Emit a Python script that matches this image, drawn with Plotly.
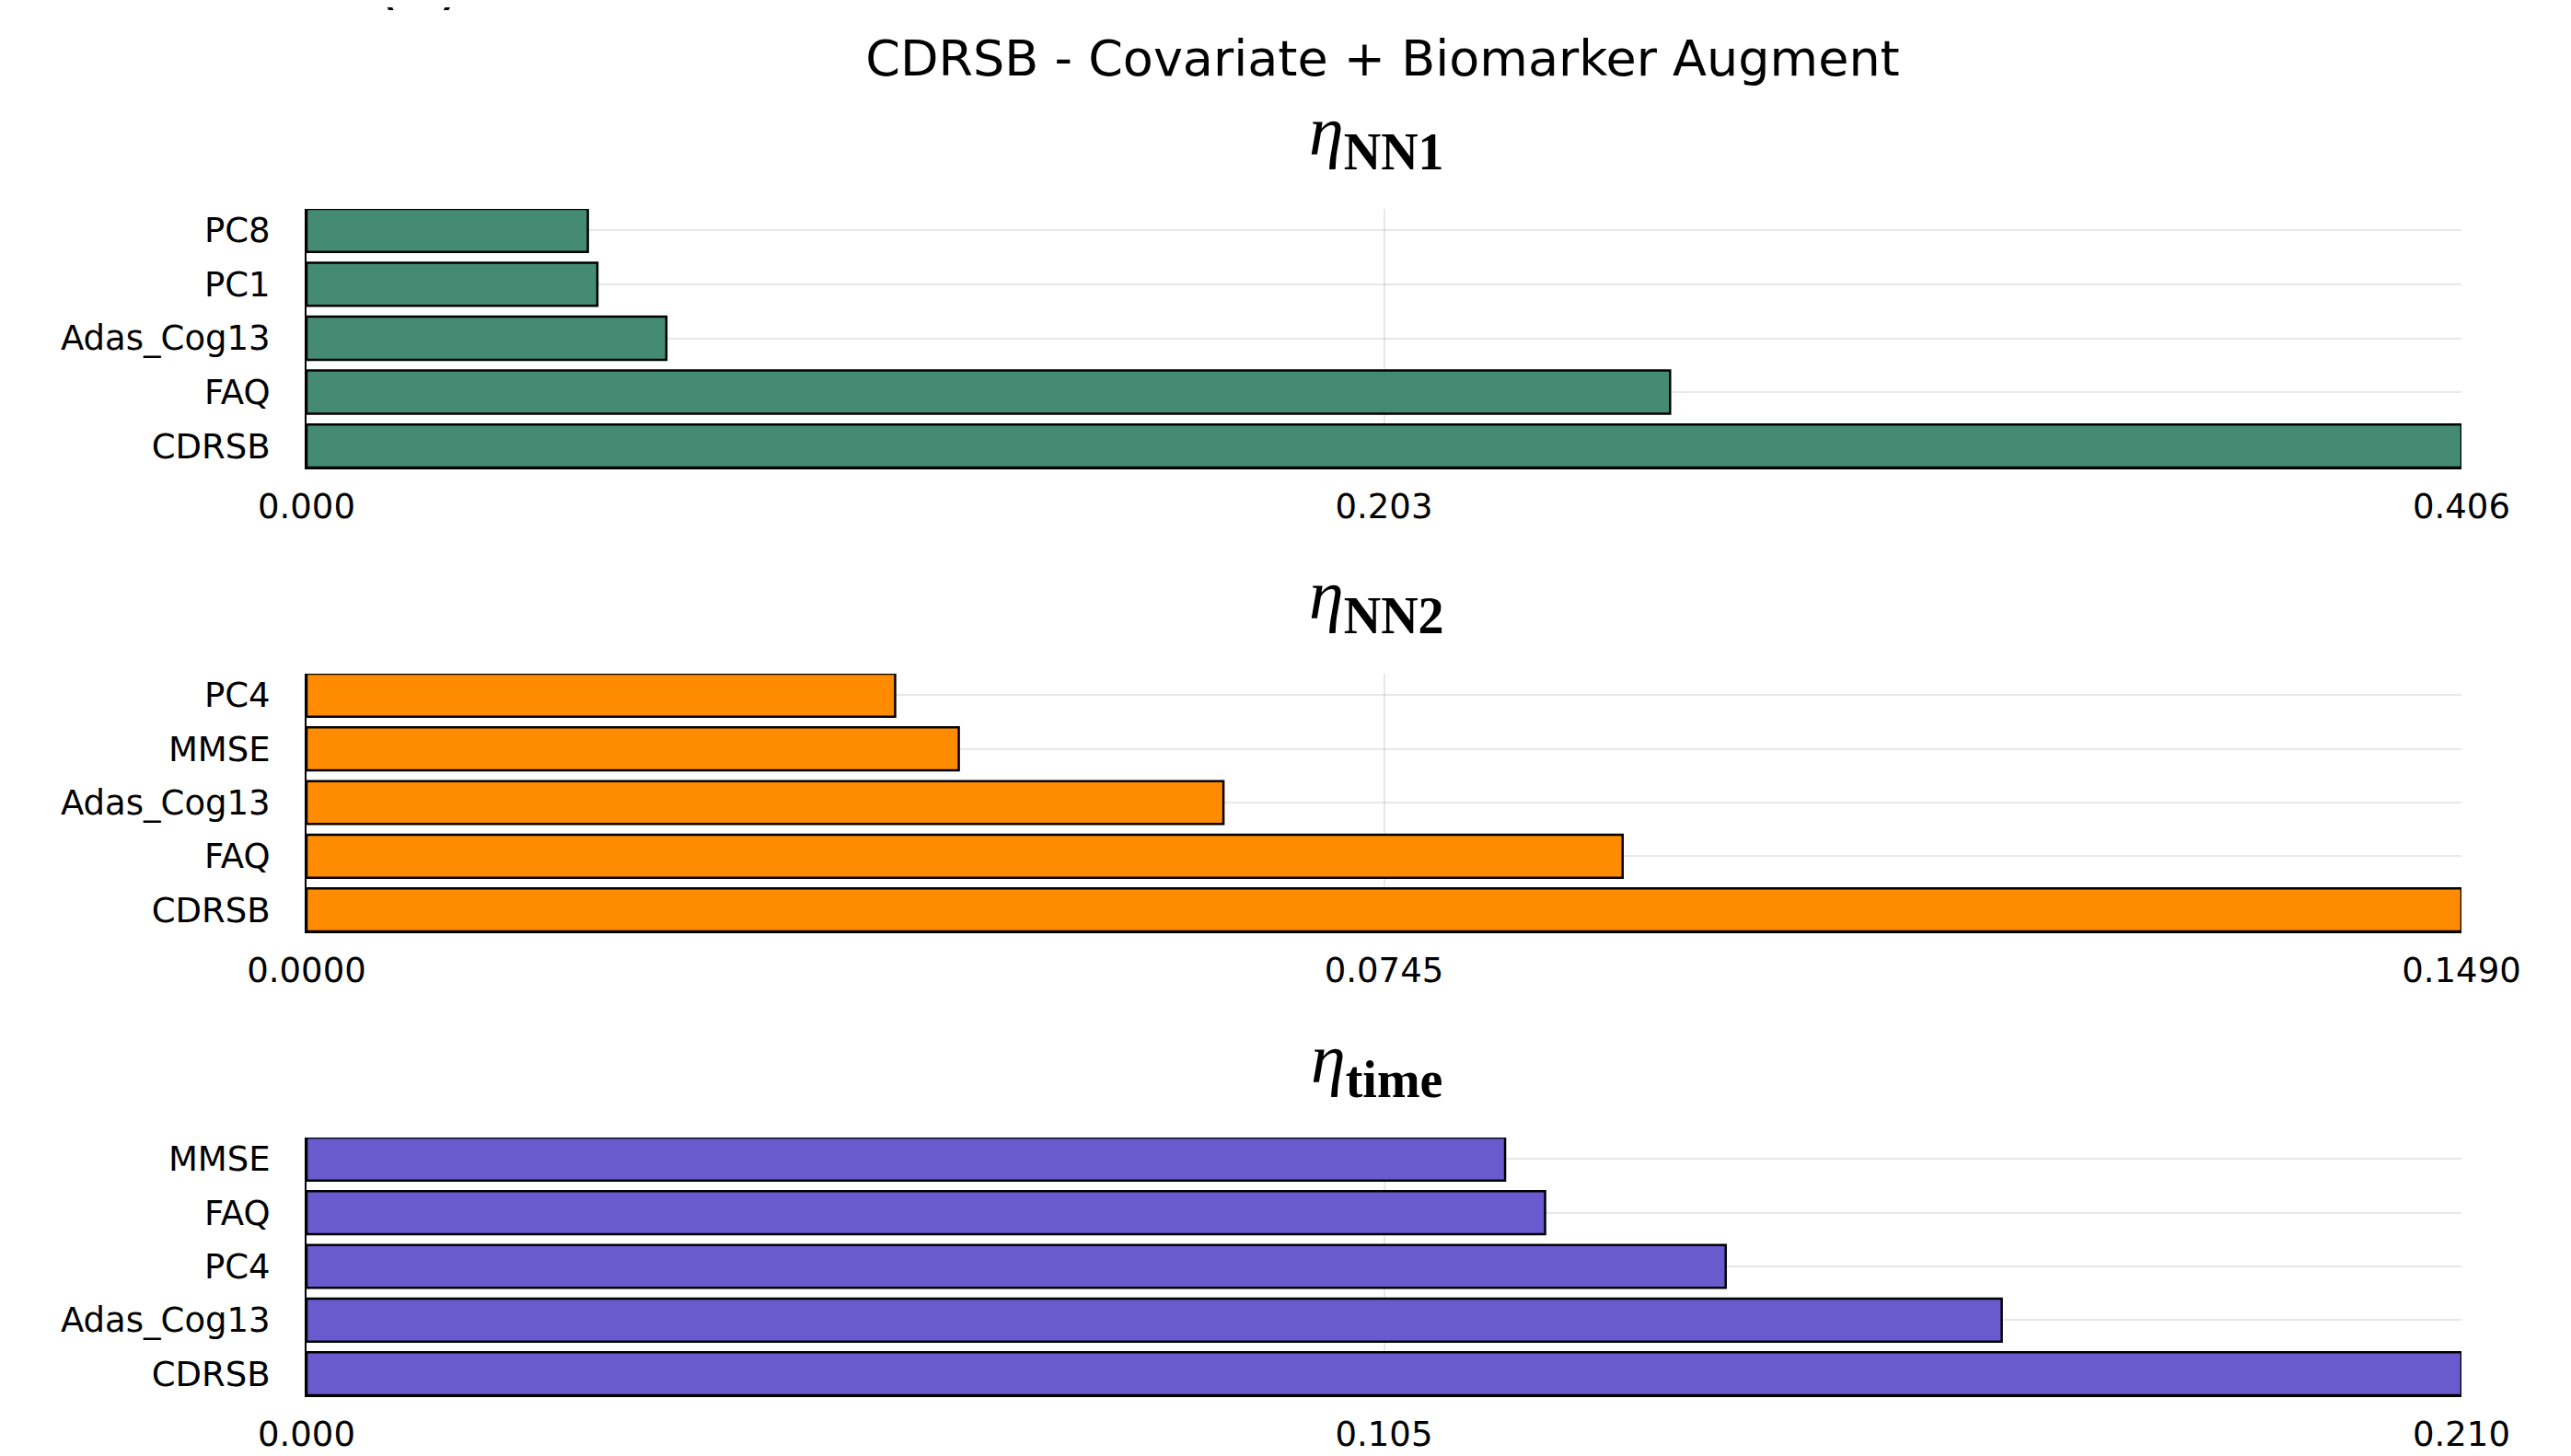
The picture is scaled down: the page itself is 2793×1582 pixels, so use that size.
import plotly.graph_objects as go

W, H = 2793, 1582

# ---------------- data ----------------
main_title = "CDRSB - Covariate + Biomarker Augment"
panel_label = "(a)"

nn1_features = ["PC8", "PC1", "Adas_Cog13", "FAQ", "CDRSB"]
nn1_values = [0.0530, 0.0548, 0.0678, 0.2569, 0.4060]
nn1_max = 0.406
nn1_ticks = ["0.000", "0.203", "0.406"]

nn2_features = ["PC4", "MMSE", "Adas_Cog13", "FAQ", "CDRSB"]
nn2_values = [0.0407, 0.0451, 0.0634, 0.0910, 0.1490]
nn2_max = 0.149
nn2_ticks = ["0.0000", "0.0745", "0.1490"]

time_features = ["MMSE", "FAQ", "PC4", "Adas_Cog13", "CDRSB"]
time_values = [0.1168, 0.1207, 0.1383, 0.1652, 0.2100]
time_max = 0.210
time_ticks = ["0.000", "0.105", "0.210"]

panel_subscripts = ["NN1", "NN2", "time"]
colors = ["#458B74", "#FF8C00", "#6A5ACD"]

# ---------------- layout geometry (pixels, figure coords) ----------------
OFF = 8  # page body margin
x_left, x_right = 333 - OFF, 2674 - OFF
panel_px = [(227 - OFF, 508 - OFF), (732 - OFF, 1012 - OFF), (1236 - OFF, 1516 - OFF)]
subtitle_px = [140, 644, 1148]
subtitle_x = 1487
title_x = 1494

def fy(px):
    return 1 - px / H

fig = go.Figure()
panels = [
    (nn1_features, nn1_values, nn1_max, nn1_ticks),
    (nn2_features, nn2_values, nn2_max, nn2_ticks),
    (time_features, time_values, time_max, time_ticks),
]
tick_font = dict(family="DejaVu Sans", size=37, color="black")
grid_col = "rgba(0,0,0,0.09)"

for i, (feats, vals, vmax, tt) in enumerate(panels):
    n = "" if i == 0 else str(i + 1)
    fig.add_trace(go.Bar(
        x=vals, y=feats, orientation="h",
        marker=dict(color=colors[i], line=dict(color="black", width=2.5)),
        xaxis="x" + n, yaxis="y" + n, showlegend=False,
    ))
    top, bot = panel_px[i]
    fig.layout["xaxis" + n] = dict(
        domain=[x_left / W, x_right / W], anchor="y" + n,
        range=[0, vmax], tickvals=[0, vmax / 2, vmax], ticktext=tt,
        showgrid=True, gridcolor=grid_col, gridwidth=2,
        zeroline=False, showline=True, linecolor="black", linewidth=1.5,
        ticks="", tickfont=tick_font, ticklabelstandoff=9, automargin=False,
    )
    fig.layout["yaxis" + n] = dict(
        domain=[fy(bot), fy(top)], anchor="x" + n,
        type="category", categoryorder="array", categoryarray=feats,
        range=[len(feats) - 0.6, -0.4],
        showgrid=True, gridcolor=grid_col, gridwidth=2,
        zeroline=False, showline=True, linecolor="black", linewidth=2,
        ticks="", tickfont=tick_font, ticklabelstandoff=30, automargin=False,
    )
    fig.add_annotation(
        text="<i>η</i><sub><b><span style='font-size:56px'>" + panel_subscripts[i]
             + "</span></b></sub>",
        x=subtitle_x / W, y=fy(subtitle_px[i]),
        xref="paper", yref="paper", xanchor="center", yanchor="middle",
        showarrow=False, font=dict(family="Liberation Serif", size=76, color="black"),
    )

fig.add_annotation(
    text=panel_label, x=447 / W, y=fy(13), xref="paper", yref="paper",
    xanchor="center", yanchor="bottom", showarrow=False,
    font=dict(family="DejaVu Sans", size=70, color="black"),
)

fig.update_layout(
    width=W, height=H,
    margin=dict(l=0, r=0, t=0, b=0, autoexpand=False),
    paper_bgcolor="white", plot_bgcolor="white",
    bargap=0.2,
    title=dict(text=main_title, x=title_x / W, y=fy(55),
               xref="paper", yref="paper", xanchor="center", yanchor="middle",
               font=dict(family="DejaVu Sans", size=54, color="black"),
               automargin=False),
)

fig.write_html("out.html")
